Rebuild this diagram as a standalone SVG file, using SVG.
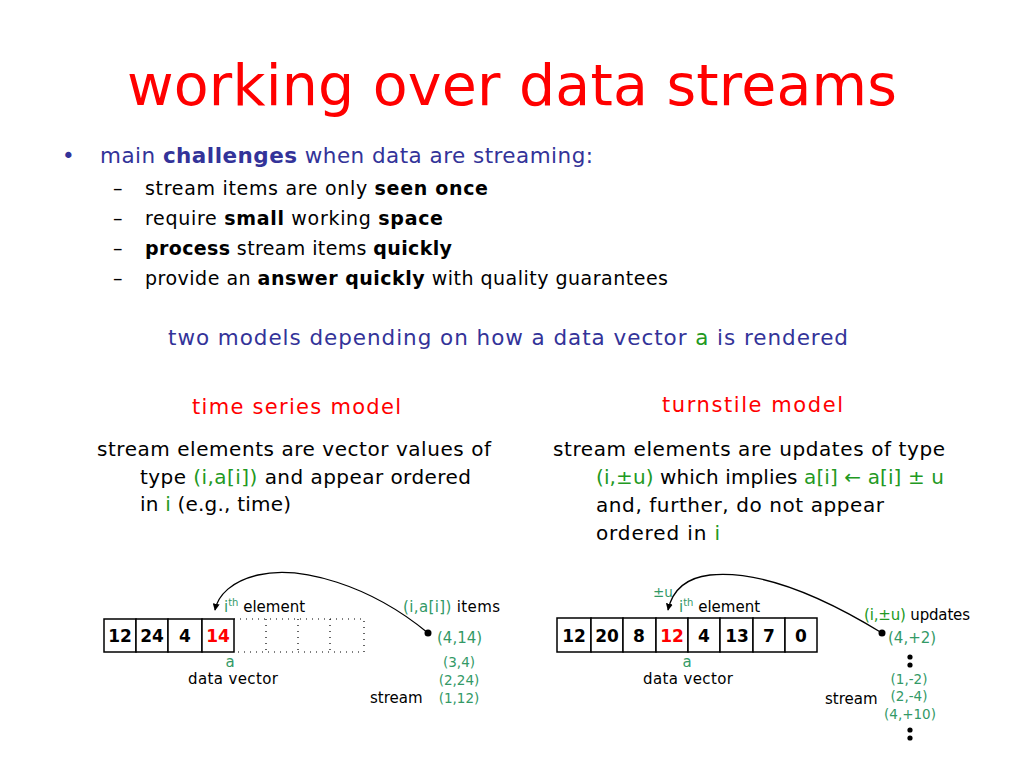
<svg xmlns="http://www.w3.org/2000/svg" width="1024" height="768" viewBox="0 0 1024 768">
<defs>
<style>
text{font-family:"DejaVu Sans","Noto Sans",sans-serif;}
.title{font-size:57px;fill:#ff0000;}
.blue{fill:#333399;}
.blk{fill:#000;}
.red{fill:#ff0000;}
.g{fill:#229922;}
.tg{fill:#339966;}
.b{font-weight:bold;}
.h1{font-size:21.5px;}
.h2{font-size:19px;}
.p{font-size:20px;}
.mh{font-size:21px;}
.s{font-size:15px;}
.sm{font-size:13.5px;}
.num{font-size:17px;font-weight:bold;}
.cell{fill:#fff;stroke:#000;stroke-width:1.5;}
.dot{fill:none;stroke:#000;stroke-width:1.2;stroke-dasharray:1 5;}
.arc{fill:none;stroke:#000;stroke-width:1.3;}
</style>
<marker id="ah" viewBox="0 0 10 10" refX="9" refY="5" markerWidth="7" markerHeight="7" orient="auto-start-reverse" markerUnits="userSpaceOnUse">
<path d="M0,0 L10,5 L0,10 z" fill="#000"/>
</marker>
</defs>
<rect width="1024" height="768" fill="#fff"/>

<g id="title"><text class="title" x="512" y="105" text-anchor="middle" textLength="770">working over data streams</text></g>

<g id="bullets">
<text class="blue h1" x="62" y="163">•</text>
<text class="blue h1" x="100" y="163" textLength="493">main <tspan class="b">challenges</tspan> when data are streaming:</text>
<text class="blk h2" x="113" y="195">–</text>
<text class="blk h2" x="145" y="195" textLength="343">stream items are only <tspan class="b">seen once</tspan></text>
<text class="blk h2" x="113" y="225">–</text>
<text class="blk h2" x="145" y="225" textLength="298">require <tspan class="b">small</tspan> working <tspan class="b">space</tspan></text>
<text class="blk h2" x="113" y="255">–</text>
<text class="blk h2" x="145" y="255" textLength="307"><tspan class="b">process</tspan> stream items <tspan class="b">quickly</tspan></text>
<text class="blk h2" x="113" y="285">–</text>
<text class="blk h2" x="145" y="285" textLength="523">provide an <tspan class="b">answer quickly</tspan> with quality guarantees</text>
</g>

<g id="models-intro"><text class="blue h1" x="168" y="345" textLength="680">two models depending on how a data vector <tspan class="g">a</tspan> is rendered</text></g>

<g id="time-series-text">
<text class="red mh" x="192" y="414" textLength="209">time series model</text>
<text class="blk p" x="97" y="456" textLength="394">stream elements are vector values of</text>
<text class="blk p" x="140" y="484" textLength="331">type <tspan class="g">(i,a[i])</tspan> and appear ordered</text>
<text class="blk p" x="140" y="511" textLength="151">in <tspan class="g">i</tspan> (e.g., time)</text>
</g>

<g id="turnstile-text">
<text class="red mh" x="662" y="412" textLength="181">turnstile model</text>
<text class="blk p" x="553" y="456" textLength="392">stream elements are updates of type</text>
<text class="blk p" x="596" y="484" textLength="348"><tspan class="g">(i,±u)</tspan> which implies <tspan class="g">a[i] ← a[i] ± u</tspan></text>
<text class="blk p" x="596" y="512" textLength="288">and, further, do not appear</text>
<text class="blk p" x="596" y="540" textLength="124">ordered in <tspan class="g">i</tspan></text>
</g>

<g id="ts-vector">
<rect class="cell" x="104" y="619" width="32" height="33"/>
<rect class="cell" x="136" y="619" width="32" height="33"/>
<rect class="cell" x="168" y="619" width="34" height="33"/>
<rect class="cell" x="202" y="619" width="32" height="33"/>
<path class="dot" d="M234,619 H364 V652 H234 M266,619 V652 M298,619 V652 M330,619 V652"/>
<text class="num blk" x="120" y="642" text-anchor="middle">12</text>
<text class="num blk" x="152" y="642" text-anchor="middle">24</text>
<text class="num blk" x="185" y="642" text-anchor="middle">4</text>
<text class="num red" x="218" y="642" text-anchor="middle">14</text>
<text class="s tg" x="230" y="667" text-anchor="middle">a</text>
<text class="s blk" x="233" y="684" text-anchor="middle" textLength="90">data vector</text>
<text class="s" x="224" y="612"><tspan class="tg">i</tspan><tspan class="tg" font-size="10" dy="-6">th</tspan><tspan class="blk" dy="6"> element</tspan></text>
</g>

<g id="ts-stream">
<circle cx="428" cy="633" r="3.5" fill="#000"/>
<text class="s" x="403" y="612" textLength="97"><tspan class="tg">(i,a[i])</tspan><tspan class="blk"> items</tspan></text>
<text class="s tg" x="437" y="643">(4,14)</text>
<text class="sm tg" x="459" y="667" text-anchor="middle">(3,4)</text>
<text class="sm tg" x="459" y="685" text-anchor="middle">(2,24)</text>
<text class="sm tg" x="459" y="703" text-anchor="middle">(1,12)</text>
<text class="s blk" x="370" y="703">stream</text>
</g>

<g id="tn-vector">
<rect class="cell" x="557" y="618" width="34" height="34"/>
<rect class="cell" x="591" y="618" width="32" height="34"/>
<rect class="cell" x="623" y="618" width="33" height="34"/>
<rect class="cell" x="656" y="618" width="32" height="34"/>
<rect class="cell" x="688" y="618" width="32" height="34"/>
<rect class="cell" x="720" y="618" width="33" height="34"/>
<rect class="cell" x="753" y="618" width="32" height="34"/>
<rect class="cell" x="785" y="618" width="32" height="34"/>
<text class="num blk" x="574" y="642" text-anchor="middle">12</text>
<text class="num blk" x="607" y="642" text-anchor="middle">20</text>
<text class="num blk" x="639" y="642" text-anchor="middle">8</text>
<text class="num red" x="672" y="642" text-anchor="middle">12</text>
<text class="num blk" x="704" y="642" text-anchor="middle">4</text>
<text class="num blk" x="737" y="642" text-anchor="middle">13</text>
<text class="num blk" x="769" y="642" text-anchor="middle">7</text>
<text class="num blk" x="801" y="642" text-anchor="middle">0</text>
<text class="s tg" x="687" y="667" text-anchor="middle">a</text>
<text class="s blk" x="688" y="684" text-anchor="middle" textLength="90">data vector</text>
<text class="sm tg" x="653" y="597">±u</text>
<text class="s" x="679" y="612"><tspan class="tg">i</tspan><tspan class="tg" font-size="10" dy="-6">th</tspan><tspan class="blk" dy="6"> element</tspan></text>
</g>

<g id="tn-stream">
<circle cx="882" cy="633" r="3.5" fill="#000"/>
<text class="s" x="864" y="620" textLength="106"><tspan class="g">(i,±u)</tspan><tspan class="blk"> updates</tspan></text>
<text class="s tg" x="888" y="643">(4,+2)</text>
<circle cx="910" cy="657" r="2.6" fill="#000"/>
<circle cx="910" cy="665" r="2.6" fill="#000"/>
<text class="sm tg" x="909" y="684" text-anchor="middle">(1,-2)</text>
<text class="sm tg" x="909" y="701" text-anchor="middle">(2,-4)</text>
<text class="sm tg" x="910" y="719" text-anchor="middle">(4,+10)</text>
<text class="s blk" x="825" y="704">stream</text>
<circle cx="910" cy="730" r="2.6" fill="#000"/>
<circle cx="910" cy="738" r="2.6" fill="#000"/>
</g>

<g id="connectors">
<path class="arc" d="M428,633 C370,585 300,565 258,575 C232,581 218,595 215,610" marker-end="url(#ah)"/>
<path class="arc" d="M882,633 C820,595 760,570 710,575 C684,578 672,592 668,610" marker-end="url(#ah)"/>
</g>
</svg>
